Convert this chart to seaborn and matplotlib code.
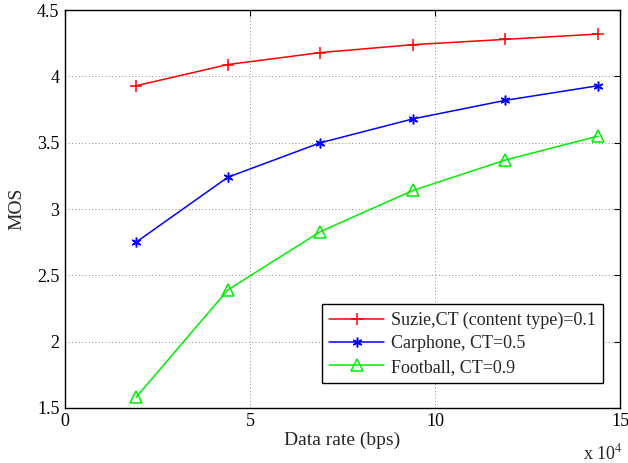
import matplotlib
matplotlib.use("Agg")
import matplotlib.pyplot as plt
import seaborn as sns
from matplotlib.ticker import FixedLocator, FuncFormatter

data_rate = [19200, 44000, 69000, 94000, 119000, 144000]
suzie = [3.93, 4.09, 4.18, 4.24, 4.28, 4.32]
carphone = [2.75, 3.24, 3.50, 3.68, 3.82, 3.93]
football = [1.58, 2.39, 2.83, 3.14, 3.37, 3.55]
labels = ["Suzie,CT (content type)=0.1", "Carphone, CT=0.5", "Football, CT=0.9"]
x_ticks = [0, 50000, 100000, 150000]
y_ticks = [1.5, 2, 2.5, 3, 3.5, 4, 4.5]

sns.set_style("white")
plt.rcParams['font.family'] = ['Liberation Serif', 'DejaVu Serif']
plt.rcParams['mathtext.fontset'] = 'stix'

fig = plt.figure(figsize=(6.28, 4.63), dpi=100)
ax = fig.add_axes([0.1035, 0.119, 0.884, 0.859])

red, blue, green = '#ff0000', '#0000ff', '#00ee00'
sns.lineplot(x=data_rate, y=suzie, ax=ax, color=red, marker='+', markersize=8,
             markeredgecolor=red, markeredgewidth=1.1, linewidth=1.1, label=labels[0])
sns.lineplot(x=data_rate, y=carphone, ax=ax, color=blue, marker=(6, 2, 0), markersize=7,
             markeredgecolor=blue, markeredgewidth=1.1, linewidth=1.1, label=labels[1])
sns.lineplot(x=data_rate, y=football, ax=ax, color=green, marker='^', markersize=8,
             markerfacecolor='none', markeredgecolor=green, markeredgewidth=1.1,
             linewidth=1.1, label=labels[2])

ax.set_xlim(0, 150000)
ax.set_ylim(1.5, 4.5)
ax.xaxis.set_major_locator(FixedLocator(x_ticks))
ax.xaxis.set_major_formatter(FuncFormatter(lambda v, p: f"{v/1e4:g}"))
ax.set_yticks(y_ticks)
ax.set_yticklabels([f"{v:g}" for v in y_ticks])
ax.tick_params(direction='in', top=True, right=True, labelsize=13, length=4, width=0.8,
               colors='black', pad=4)
ax.grid(True, linestyle=(0, (1, 3)), color='black', linewidth=0.6, alpha=0.6)
for s in ax.spines.values():
    s.set_color('black')
    s.set_linewidth(1.0)
ax.set_xlabel("Data rate (bps)", fontsize=14, labelpad=1)
ax.set_ylabel("MOS", fontsize=14, labelpad=8)
ax.text(1.004, -0.088, r"x 10$^4$", transform=ax.transAxes, ha='right', va='top', fontsize=13)

leg = ax.legend(loc='lower right', bbox_to_anchor=(0.969, 0.063), borderaxespad=0,
                fontsize=13, frameon=True, fancybox=False, edgecolor='black', framealpha=1,
                handlelength=3.0, handletextpad=0.4, borderpad=0.4, labelspacing=0.35)
leg.get_frame().set_linewidth(1.0)

fig.savefig("out.png", dpi=100)
